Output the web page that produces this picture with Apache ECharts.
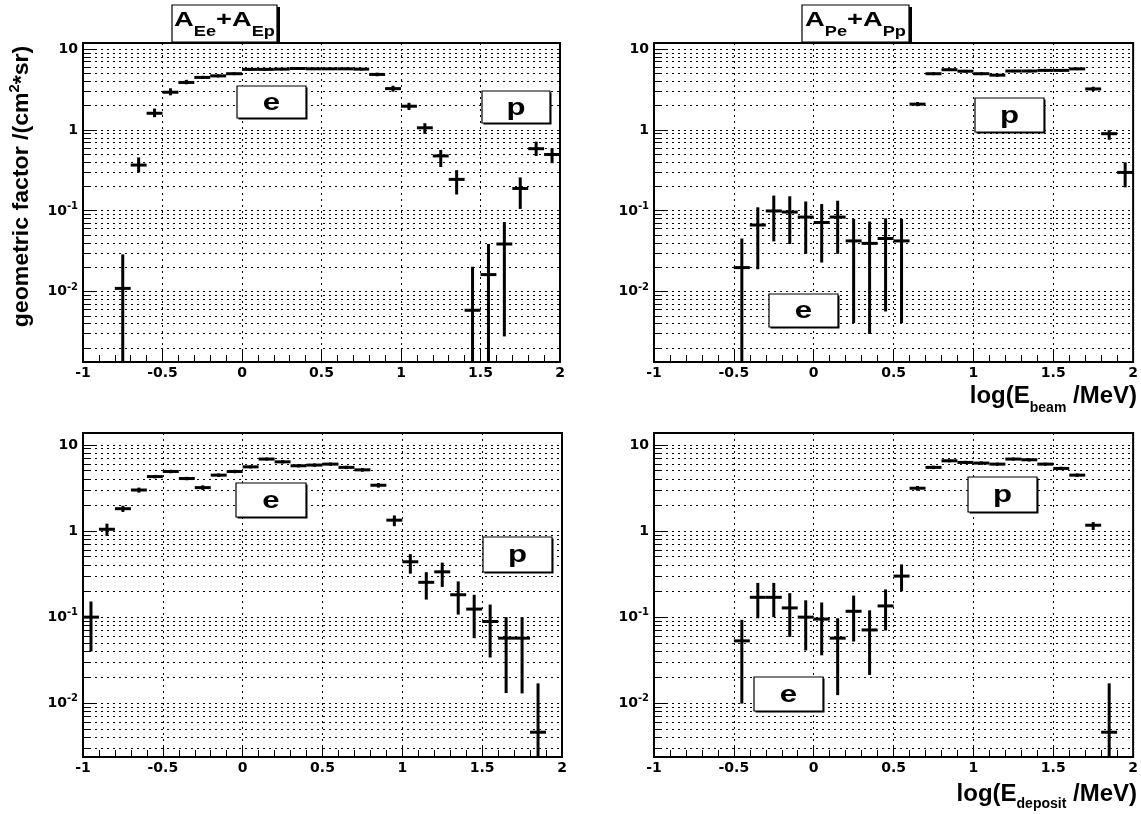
<!DOCTYPE html>
<html><head><meta charset="utf-8">
<script src="https://cdn.jsdelivr.net/npm/echarts@6/dist/echarts.min.js"></script>
<style>html,body{margin:0;padding:0;background:#fff}#c{width:1141px;height:814px}</style>
</head><body><div id="c"></div>
<script>
// ---------------- data ----------------
const BIN_HALF = 0.05;               // half bin width in log(E/MeV)
const xTickStep = 0.5;
const decadeVals = [0.01, 0.1, 1, 10];
const minorVals = [0.002,0.003,0.004,0.005,0.006,0.007,0.008,0.009,
                   0.02,0.03,0.04,0.05,0.06,0.07,0.08,0.09,
                   0.2,0.3,0.4,0.5,0.6,0.7,0.8,0.9,
                   2,3,4,5,6,7,8,9];
const topYRange = [0.00135, 12];
const botYRange = [0.00237, 13.8];

// top-left: A_Ee + A_Ep vs log(E_beam)
const tlX   = [-0.75,-0.65,-0.55,-0.45,-0.35,-0.25,-0.15,-0.05,0.05,0.15,0.25,0.35,0.45,0.55,0.65,0.75,0.85,0.95,1.05,1.15,1.25,1.35,1.45,1.55,1.65,1.75,1.85,1.95];
const tlVal = [0.011,0.37,1.62,2.95,3.9,4.5,4.7,5.0,5.66,5.66,5.7,5.8,5.75,5.75,5.75,5.7,4.9,3.27,1.98,1.07,0.48,0.246,0.0059,0.0163,0.039,0.19,0.59,0.50];
const tlLo  = [0,0.30,1.45,2.7,3.7,4.3,4.5,4.8,5.45,5.45,5.5,5.6,5.55,5.55,5.55,5.5,4.65,3.0,1.78,0.9,0.35,0.16,0,0,0.0028,0.106,0.48,0.39];
const tlHi  = [0.029,0.46,1.85,3.3,4.2,4.7,4.9,5.2,5.9,5.9,5.9,6.0,5.95,5.95,5.95,5.9,5.15,3.55,2.18,1.22,0.57,0.32,0.0204,0.039,0.073,0.26,0.72,0.60];

// top-right: A_Pe + A_Pp vs log(E_beam)
const trX   = [-0.45,-0.35,-0.25,-0.15,-0.05,0.05,0.15,0.25,0.35,0.45,0.55,0.65,0.75,0.85,0.95,1.05,1.15,1.25,1.35,1.45,1.55,1.65,1.75,1.85,1.95];
const trVal = [0.0199,0.067,0.10,0.097,0.084,0.072,0.084,0.0426,0.0397,0.0456,0.0426,2.1,5.0,5.6,5.37,5.0,4.8,5.4,5.4,5.5,5.5,5.74,3.24,0.905,0.30];
const trLo  = [0,0.019,0.042,0.039,0.0295,0.023,0.0295,0.0041,0.0030,0.0057,0.0041,1.98,4.8,5.4,5.17,4.8,4.6,5.2,5.2,5.3,5.3,5.54,3.05,0.76,0.196];
const trHi  = [0.0456,0.111,0.155,0.152,0.131,0.122,0.134,0.080,0.074,0.081,0.080,2.23,5.2,5.8,5.57,5.2,5.0,5.6,5.6,5.7,5.7,5.94,3.45,1.0,0.40];

// bottom-left: A_Ee + A_Ep vs log(E_deposit)
const blX   = [-0.95,-0.85,-0.75,-0.65,-0.55,-0.45,-0.35,-0.25,-0.15,-0.05,0.05,0.15,0.25,0.35,0.45,0.55,0.65,0.75,0.85,0.95,1.05,1.15,1.25,1.35,1.45,1.55,1.65,1.75,1.85];
const blVal = [0.10,1.05,1.82,3.0,4.3,4.93,4.08,3.2,4.47,4.93,5.58,6.87,6.38,5.74,5.85,6.0,5.5,5.15,3.41,1.34,0.44,0.254,0.336,0.182,0.124,0.089,0.057,0.057,0.0046];
const blLo  = [0.040,0.88,1.67,2.8,4.1,4.7,3.9,3.0,4.27,4.7,5.35,6.6,6.1,5.5,5.6,5.75,5.25,4.9,3.2,1.14,0.32,0.16,0.224,0.107,0.057,0.034,0.0131,0.013,0];
const blHi  = [0.152,1.22,1.97,3.2,4.5,5.15,4.27,3.4,4.67,5.15,5.8,7.15,6.65,6.0,6.1,6.25,5.75,5.4,3.62,1.52,0.54,0.333,0.43,0.26,0.182,0.14,0.10,0.10,0.017];

// bottom-right: A_Pe + A_Pp vs log(E_deposit)
const brX   = [-0.45,-0.35,-0.25,-0.15,-0.05,0.05,0.15,0.25,0.35,0.45,0.55,0.65,0.75,0.85,0.95,1.05,1.15,1.25,1.35,1.45,1.55,1.65,1.75,1.85];
const brVal = [0.053,0.17,0.17,0.128,0.10,0.095,0.057,0.117,0.071,0.135,0.30,3.15,5.5,6.56,6.28,6.17,6.0,6.87,6.74,6.0,5.35,4.47,1.17,0.0046];
const brLo  = [0.0099,0.097,0.10,0.059,0.041,0.036,0.0124,0.052,0.0213,0.07,0.20,2.95,5.25,6.3,6.0,5.9,5.75,6.6,6.45,5.75,5.1,4.27,1.03,0];
const brHi  = [0.093,0.25,0.25,0.19,0.157,0.148,0.097,0.178,0.12,0.21,0.41,3.35,5.75,6.8,6.55,6.45,6.25,7.15,7.0,6.25,5.6,4.67,1.27,0.017];

// ---------------- chart ----------------
const FONT_AX = 'DejaVu Sans';
const FONT_TX = 'Liberation Sans';

const panels = [
  {grid:{left:83, top:43, width:477, height:319}, yr: topYRange, x: tlX, v: tlVal, lo: tlLo, hi: tlHi},
  {grid:{left:654, top:43, width:484, height:319}, yr: topYRange, x: trX, v: trVal, lo: trLo, hi: trHi},
  {grid:{left:83, top:433, width:479, height:324}, yr: botYRange, x: blX, v: blVal, lo: blLo, hi: blHi},
  {grid:{left:654, top:433, width:484, height:324}, yr: botYRange, x: brX, v: brVal, lo: brLo, hi: brHi}
];

function yFmt(v) {
  const l = Math.log10(v), e = Math.round(l);
  if (Math.abs(l - e) > 1e-6) return '';
  if (e === 1) return '10';
  if (e === 0) return '1';
  return '10{s|' + e + '}';
}
const px = v => Math.round(v - 0.5) + 0.5;

const grids = [], xAxes = [], yAxes = [], series = [];
panels.forEach((p, i) => {
  grids.push(Object.assign({show:true, borderColor:'#000', borderWidth:2, backgroundColor:'#fff', containLabel:false}, p.grid));
  xAxes.push({
    type:'value', gridIndex:i, min:-1, max:2, interval:xTickStep,
    axisLine:{show:false},
    axisTick:{show:true, inside:true, length:12, lineStyle:{color:'#000', width:1}},
    minorTick:{show:true, splitNumber:5, length:7, lineStyle:{color:'#000', width:1}},
    splitLine:{show:true, lineStyle:{type:[2,4], color:'#000', width:1}},
    axisLabel:{fontFamily:FONT_AX, fontWeight:'bold', fontSize:14, color:'#000', margin:4}
  });
  yAxes.push({
    type:'log', logBase:10, gridIndex:i, min:p.yr[0], max:p.yr[1],
    axisLine:{show:false}, axisTick:{show:false}, splitLine:{show:false}, minorTick:{show:false},
    axisLabel:{formatter:yFmt, fontFamily:FONT_AX, fontWeight:'bold', fontSize:14, color:'#000', margin:5,
      rich:{s:{fontFamily:FONT_AX, fontWeight:'bold', fontSize:10, color:'#000', padding:[0,0,9,0]}}}
  });
  // y grid lines + y ticks (decades long, 2..9 short)
  const gridRows = decadeVals.map(v => [-1, v, 1]).concat(minorVals.map(v => [-1, v, 0]))
      .filter(r => r[1] > p.yr[0] && r[1] < p.yr[1]);
  series.push({
    type:'custom', xAxisIndex:i, yAxisIndex:i, silent:true, z:1, animation:false,
    encode:{x:0, y:1}, data:gridRows,
    renderItem:(params, api) => {
      const a = api.coord([-1, api.value(1)]);
      const b = api.coord([2, api.value(1)]);
      const yy = px(a[1]);
      const len = api.value(2) ? 13 : 7;
      return {type:'group', children:[
        {type:'line', shape:{x1:a[0], y1:yy, x2:b[0], y2:yy}, style:{stroke:'#000', lineWidth:1, lineDash:[2,4]}},
        {type:'line', shape:{x1:a[0], y1:yy, x2:a[0]+len, y2:yy}, style:{stroke:'#000', lineWidth:1}}
      ]};
    }
  });
  // error bars
  const yMin = p.yr[0];
  series.push({
    type:'custom', xAxisIndex:i, yAxisIndex:i, silent:true, z:3, animation:false, clip:true,
    encode:{x:0, y:1},
    data:p.x.map((x, k) => [x, p.v[k], p.lo[k], p.hi[k]]),
    renderItem:(params, api) => {
      const x = api.value(0), y = api.value(1), lo = api.value(2), hi = api.value(3);
      const L = api.coord([x - BIN_HALF, y]), R = api.coord([x + BIN_HALF, y]);
      const T = api.coord([x, hi]), B = api.coord([x, lo > 0 ? lo : yMin]);
      return {type:'group', children:[
        {type:'line', shape:{x1:L[0], y1:L[1], x2:R[0], y2:R[1]}, style:{stroke:'#000', lineWidth:3}},
        {type:'line', shape:{x1:T[0], y1:T[1], x2:B[0], y2:B[1]}, style:{stroke:'#000', lineWidth:3}}
      ]};
    }
  });
});

// ---------------- annotations ----------------
function boxRects(x, y, w, h, dx, dy) {
  return [
    {type:'rect', shape:{x:x + dx, y:y + dy, width:w, height:h}, z:9, style:{fill:'#000'}},
    {type:'rect', shape:{x:x, y:y, width:w, height:h}, z:10, style:{fill:'#fff', stroke:'#000', lineWidth:1.2}}
  ];
}
function labelBox(x, y, w, h, txt) {
  return {type:'group', children: boxRects(x, y, w, h, 1.5, 1.5).concat([
    {type:'text', x:x + w/2, y:y + h/2 + 1, scaleX:1.3, z:11,
      style:{text:txt, font:'bold 24px "' + FONT_TX + '"', fill:'#000', align:'center', verticalAlign:'middle'}}
  ])};
}
function titleBox(x, y, w, h, a1, s1, a2, s2) {
  return {type:'group', children: boxRects(x, y, w, h, 3, 2).concat([
    {type:'text', x:x + w/2, y:y - 3, scaleX:1.3, z:11,
      style:{text:'{a|' + a1 + '}{s|' + s1 + '}{a|' + a2 + '}{s|' + s2 + '}', align:'center', verticalAlign:'top',
        rich:{a:{fontFamily:FONT_TX, fontWeight:'bold', fontSize:21, fill:'#000'},
              s:{fontFamily:FONT_TX, fontWeight:'bold', fontSize:14, fill:'#000', padding:[23,0,0,0]}}}}
  ])};
}
function xTitle(xr, top, sub, pad) {
  return {type:'text', x:xr, y:top, z:11,
    style:{text:'log(E{s|' + sub + '} /MeV)', align:'right', verticalAlign:'top',
      rich:{s:{fontFamily:FONT_TX, fontWeight:'bold', fontSize:14, fill:'#000', padding:[pad,0,0,0]}},
      font:'bold 24px "' + FONT_TX + '"', fill:'#000'}};
}

const graphics = [
  titleBox(172, 5, 105, 37, 'A', 'Ee', '+A', 'Ep'),
  titleBox(802, 5, 107, 37, 'A', 'Pe', '+A', 'Pp'),
  labelBox(237, 86, 69, 32, 'e'),
  labelBox(482, 91, 68, 32, 'p'),
  labelBox(975, 98, 69, 34, 'p'),
  labelBox(769, 294, 69, 33, 'e'),
  labelBox(236, 483, 70, 34, 'e'),
  labelBox(483, 537, 69, 35, 'p'),
  labelBox(968, 477, 69, 35, 'p'),
  labelBox(754, 677, 69, 34, 'e'),
  xTitle(1137, 376.5, 'beam', 25),
  xTitle(1137, 778, 'deposit', 19),
  {type:'text', x:22, y:186.5, rotation:Math.PI/2, scaleX:1.05, z:11,
    style:{text:'geometric factor /(cm{p|2}*sr)', align:'center', verticalAlign:'middle',
      font:'bold 22px "' + FONT_TX + '"', fill:'#000',
      rich:{p:{fontFamily:FONT_TX, fontWeight:'bold', fontSize:14, fill:'#000', padding:[0,0,14,0]}}}}
];

const chart = echarts.init(document.getElementById('c'), null, {renderer:'canvas'});
chart.setOption({
  animation:false,
  backgroundColor:'#fff',
  grid:grids, xAxis:xAxes, yAxis:yAxes, series:series,
  graphic:graphics
});
</script></body></html>
